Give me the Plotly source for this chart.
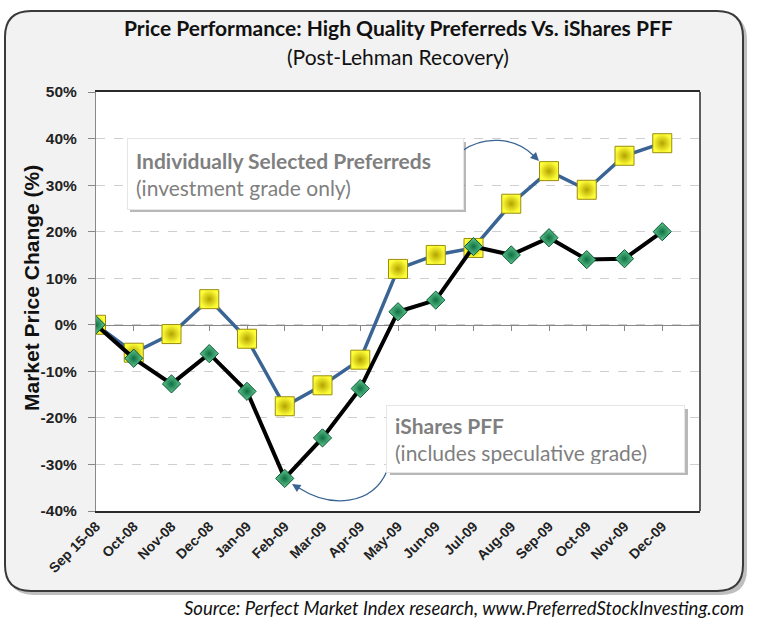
import plotly.graph_objects as go

categories = ["Sep 15-08", "Oct-08", "Nov-08", "Dec-08", "Jan-09", "Feb-09", "Mar-09", "Apr-09",
              "May-09", "Jun-09", "Jul-09", "Aug-09", "Sep-09", "Oct-09", "Nov-09", "Dec-09"]
preferreds = [0, -6, -2, 5.5, -3, -17.5, -13, -7.5, 12, 15, 16.5, 26, 33, 29, 36.3, 39]
pff = [0, -7.2, -12.7, -6.2, -14.3, -33, -24.3, -13.7, 2.8, 5.3, 16.8, 15, 18.7, 14, 14.2, 20]
ytick_vals = [-40, -30, -20, -10, 0, 10, 20, 30, 40, 50]
ytick_text = ["-40%", "-30%", "-20%", "-10%", "0%", "10%", "20%", "30%", "40%", "50%"]

W, H = 763, 631
L, R, T, B = 96, 700, 92, 511


def px(x):
    return (x - L) / (R - L)


def py(y):
    return (B - y) / (B - T)


def rrect(x0, y0, x1, y1, r):
    return (f"M {px(x0 + r)},{py(y0)} L {px(x1 - r)},{py(y0)} Q {px(x1)},{py(y0)} {px(x1)},{py(y0 + r)} "
            f"L {px(x1)},{py(y1 - r)} Q {px(x1)},{py(y1)} {px(x1 - r)},{py(y1)} "
            f"L {px(x0 + r)},{py(y1)} Q {px(x0)},{py(y1)} {px(x0)},{py(y1 - r)} "
            f"L {px(x0)},{py(y0 + r)} Q {px(x0)},{py(y0)} {px(x0 + r)},{py(y0)} Z")


xi = list(range(len(categories)))

fig = go.Figure()
# dummy trace to activate xaxis2 (zero line with ticks)
fig.add_trace(go.Scatter(x=[0], y=[0], xaxis="x2", mode="markers", marker=dict(opacity=0), hoverinfo="skip"))
fig.add_trace(go.Scatter(
    x=xi, y=preferreds, mode="lines+markers", name="Individually Selected Preferreds",
    line=dict(color="#3a6494", width=3.5),
    marker=dict(symbol="square", size=19, color="#ffff38",
                gradient=dict(type="radial", color="#b3a300"),
                line=dict(color="#9a8c10", width=1)),
))
fig.add_trace(go.Scatter(
    x=xi, y=pff, mode="lines+markers", name="iShares PFF",
    line=dict(color="#000000", width=4),
    marker=dict(symbol="diamond", size=14, color="#5fc98f",
                gradient=dict(type="radial", color="#0f6e42"),
                line=dict(color="#0b5534", width=1)),
))

shapes = [
    dict(type="path", xref="paper", yref="paper", path=rrect(8, 14, 747, 595, 26),
         fillcolor="rgba(0,0,0,0.25)", line=dict(width=0), layer="below"),
    dict(type="path", xref="paper", yref="paper", path=rrect(5, 11, 743, 591, 26),
         fillcolor="#f2f2f2", line=dict(color="#3a3a3a", width=2), layer="below"),
    dict(type="rect", xref="paper", yref="paper", x0=0, x1=1, y0=0, y1=1,
         fillcolor="#ffffff", line=dict(width=0), layer="below"),
    dict(type="line", xref="paper", yref="paper", x0=1, x1=1, y0=0, y1=1,
         line=dict(color="#2b2b2b", width=1.5), layer="between"),
    dict(type="rect", xref="paper", yref="paper", x0=px(130), x1=px(466), y0=py(142), y1=py(212),
         fillcolor="rgba(0,0,0,0.28)", line=dict(width=0), layer="above"),
    dict(type="rect", xref="paper", yref="paper", x0=px(390), x1=px(688), y0=py(409), y1=py(475),
         fillcolor="rgba(0,0,0,0.28)", line=dict(width=0), layer="above"),
    dict(type="path", xref="paper", yref="paper",
         path=f"M {px(462)},{py(151)} C {px(482)},{py(136)} {px(515)},{py(136)} {px(534)},{py(156)}",
         line=dict(color="#3a6494", width=1.3), layer="above"),
    dict(type="path", xref="paper", yref="paper",
         path=f"M {px(387)},{py(471)} C {px(372)},{py(506)} {px(330)},{py(508)} {px(299)},{py(488)}",
         line=dict(color="#3a6494", width=1.3), layer="above"),
]

annotations = [
    dict(xref="paper", yref="paper", x=px(398), y=py(28), text="<b>Price Performance: High Quality Preferreds Vs. iShares PFF</b>",
         showarrow=False, font=dict(family="Lato", size=21, color="#111111"), xanchor="center", yanchor="middle"),
    dict(xref="paper", yref="paper", x=px(398), y=py(57), text="(Post-Lehman Recovery)",
         showarrow=False, font=dict(family="Lato", size=21, color="#111111"), xanchor="center", yanchor="middle"),
    dict(xref="paper", yref="paper", x=px(31), y=py(288), text="<b>Market Price Change (%)</b>", textangle=-90,
         showarrow=False, font=dict(family="Liberation Sans", size=21, color="#111111"), xanchor="center", yanchor="middle"),
    dict(xref="paper", yref="paper", x=px(746), y=py(608),
         text="<i>Source: Perfect Market Index research, www.PreferredStockInvesting.com</i>",
         showarrow=False, font=dict(family="Lato", size=18.5, color="#111111"), xanchor="right", yanchor="middle"),
    dict(xref="paper", yref="paper", x=px(127), y=py(138), xanchor="left", yanchor="top",
         width=319, height=54, align="left", valign="middle", bgcolor="#ffffff", borderpad=8,
         bordercolor="#e6e6e6", borderwidth=1,
         text="<b>Individually Selected Preferreds</b><br>(investment grade only)",
         showarrow=False, font=dict(family="Lato", size=21, color="#7f7f7f")),
    dict(xref="paper", yref="paper", x=px(386), y=py(405), xanchor="left", yanchor="top",
         width=281, height=50, align="left", valign="middle", bgcolor="#ffffff", borderpad=8,
         bordercolor="#e6e6e6", borderwidth=1,
         text="<b>iShares PFF</b><br>(includes speculative grade)",
         showarrow=False, font=dict(family="Lato", size=21, color="#7f7f7f")),
    dict(xref="paper", yref="paper", x=px(539), y=py(161), ax=-7, ay=-7, text="", showarrow=True,
         arrowhead=2, arrowsize=1.3, arrowwidth=1.3, arrowcolor="#3a6494", standoff=0),
    dict(xref="paper", yref="paper", x=px(292), y=py(484), ax=8, ay=5, text="", showarrow=True,
         arrowhead=2, arrowsize=1.3, arrowwidth=1.3, arrowcolor="#3a6494", standoff=0),
]

fig.update_layout(
    width=W, height=H,
    margin=dict(l=L, r=W - R, t=T, b=H - B, pad=0),
    paper_bgcolor="#ffffff", plot_bgcolor="rgba(0,0,0,0)",
    showlegend=False,
    shapes=shapes, annotations=annotations,
    xaxis=dict(range=[0, 16], tickvals=xi, ticktext=categories, tickangle=-45,
               tickfont=dict(family="Liberation Sans", size=14, color="#222222", weight="bold"),
               showgrid=False, zeroline=False, showline=True, linecolor="#2b2b2b", linewidth=1.5,
               mirror=True, ticks="", layer="below traces", fixedrange=True),
    xaxis2=dict(range=[0, 16], tickvals=xi, overlaying="x", anchor="free", position=40 / 90,
                side="bottom", showticklabels=False, ticks="outside", ticklen=5, tickcolor="#888888",
                showline=True, linecolor="#888888", linewidth=1.2, showgrid=False, zeroline=False,
                layer="below traces"),
    yaxis=dict(range=[-40, 50], tickvals=ytick_vals, ticktext=ytick_text,
               tickfont=dict(family="Liberation Sans", size=15.5, color="#222222", weight="bold"),
               showgrid=True, gridcolor="#cfcfcf", griddash="dash", gridwidth=1,
               zeroline=False, showline=True, linecolor="#888888", linewidth=1.2,
               ticks="outside", ticklen=7, tickcolor="#888888", ticklabelstandoff=8,
               layer="below traces"),
)

fig.write_html("out.html", config={"displayModeBar": False},
               post_script="document.body.style.margin='0px';document.body.style.overflow='hidden';")
